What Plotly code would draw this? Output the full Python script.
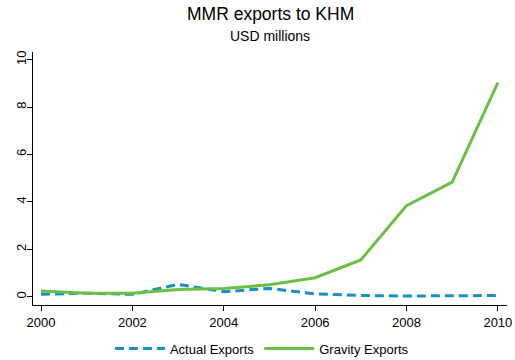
import plotly.graph_objects as go

years = [2000, 2001, 2002, 2003, 2004, 2005, 2006, 2007, 2008, 2009, 2010]
actual_exports = [0.10, 0.15, 0.10, 0.52, 0.21, 0.35, 0.12, 0.05, 0.03, 0.05, 0.05]
gravity_exports = [0.24, 0.15, 0.15, 0.30, 0.35, 0.50, 0.80, 1.55, 3.84, 4.83, 9.03]
x_ticks = [2000, 2002, 2004, 2006, 2008, 2010]
y_ticks = [0, 2, 4, 6, 8, 10]

FONT = "Liberation Sans, Arial, Helvetica, sans-serif"

fig = go.Figure()
fig.add_trace(go.Scatter(
    x=years, y=actual_exports, mode="lines", name="Actual Exports",
    line=dict(color="#1A8FC2", width=3, dash="9px,5px"),
))
fig.add_trace(go.Scatter(
    x=years, y=gravity_exports, mode="lines", name="Gravity Exports",
    line=dict(color="#6CBF45", width=3),
))

fig.update_layout(
    width=515, height=360,
    margin=dict(l=33, r=8, t=52, b=55, autoexpand=False),
    paper_bgcolor="white", plot_bgcolor="white",
    font=dict(family=FONT, color="black", size=13),
    showlegend=True,
    legend=dict(
        orientation="h", x=0.483, xanchor="center", y=-0.113, yanchor="top",
        itemwidth=50, font=dict(size=13), traceorder="normal",
    ),
    annotations=[
        dict(text="MMR exports to KHM", xref="paper", yref="paper",
             x=0.5, y=(360 - 52 - 17) / 253.0, xanchor="center", yanchor="middle",
             showarrow=False, font=dict(size=17.5, family=FONT)),
        dict(text="USD millions", xref="paper", yref="paper",
             x=0.5, y=(360 - 52 - 39.5) / 253.0, xanchor="center", yanchor="middle",
             showarrow=False, font=dict(size=14, family=FONT)),
    ],
    xaxis=dict(
        range=[1999.825, 2010.2], tickvals=x_ticks, showgrid=False, zeroline=False,
        showline=True, linecolor="black", linewidth=1, automargin=False,
        ticks="outside", ticklen=5, tickcolor="black", tickfont=dict(size=13),
    ),
    yaxis=dict(
        range=[-0.35, 10.32], tickvals=y_ticks, showgrid=False, zeroline=False,
        showline=True, linecolor="black", linewidth=1, automargin=False,
        ticks="outside", ticklen=5, tickcolor="black", tickangle=-90,
        tickfont=dict(size=13), ticklabelstandoff=-4,
    ),
)

fig.write_html("out.html", config={"displayModeBar": False},
               post_script="document.body.style.margin='0';")
